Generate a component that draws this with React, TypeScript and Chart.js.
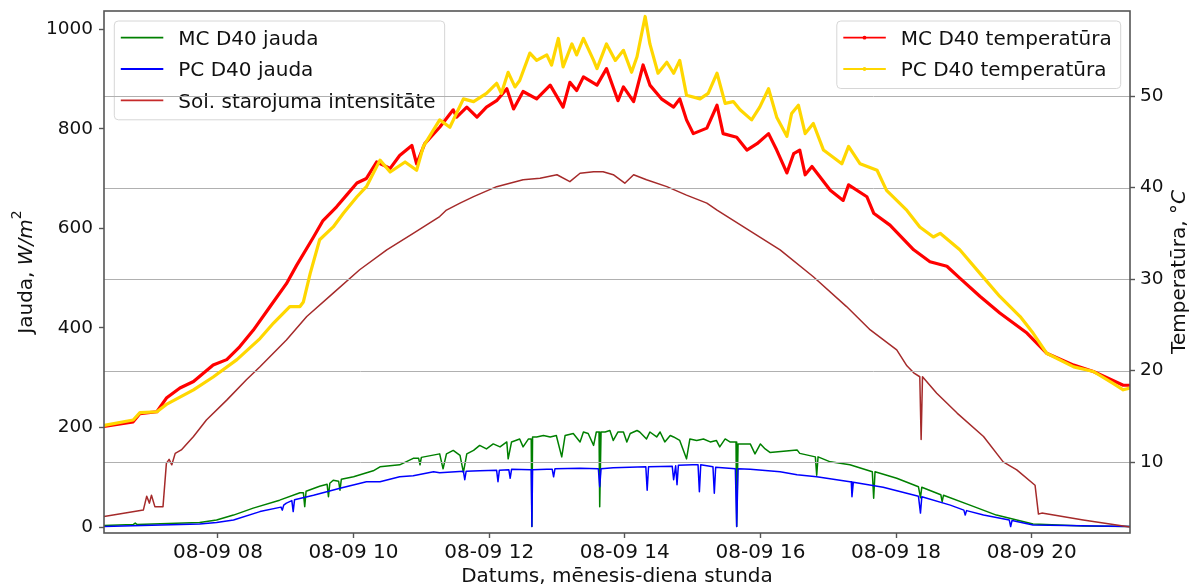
import React, { useEffect, useRef } from 'react';
import { Chart, registerables } from 'chart.js';

Chart.register(...registerables);

const FONT = "'DejaVu Sans', 'Noto Sans', sans-serif";

// ---- axis ticks ----
const xTickHours = [8, 10, 12, 14, 16, 18, 20];
const xTickDate = '08-09';
const powerTicks = [0, 200, 400, 600, 800, 1000];
const tempTicks = [10, 20, 30, 40, 50];
const xRange = [6.32, 21.45];
const powerRange = [-12, 1037];
const tempRange = [2.25, 59.3];

// ---- series (hours of 08-09, values) ----
const mcPowerHours = [
  6.32, 6.75, 6.78, 6.81, 7.73, 7.98, 8.23, 8.52, 8.91, 9.21,
  9.26, 9.28, 9.3, 9.5, 9.61, 9.63, 9.65, 9.7, 9.78, 9.8,
  9.82, 10.0, 10.29, 10.39, 10.68, 10.88, 10.96, 10.98, 11.0, 11.27,
  11.32, 11.37, 11.47, 11.57, 11.62, 11.67, 11.77, 11.86, 11.96, 12.06,
  12.16, 12.26, 12.28, 12.33, 12.45, 12.5, 12.58, 12.62, 12.63, 12.64,
  12.7, 12.8, 12.9, 12.99, 13.07, 13.12, 13.24, 13.34, 13.39, 13.46,
  13.54, 13.58, 13.62, 13.63, 13.65, 13.71, 13.78, 13.83, 13.9, 13.98,
  14.03, 14.08, 14.18, 14.22, 14.32, 14.37, 14.47, 14.52, 14.59, 14.67,
  14.72, 14.81, 14.91, 14.96, 15.06, 15.16, 15.26, 15.35, 15.4, 15.48,
  15.55, 15.64, 15.65, 15.67, 15.75, 15.85, 15.92, 16.0, 16.07, 16.14,
  16.54, 16.58, 16.81, 16.83, 16.85, 17.03, 17.32, 17.65, 17.67, 17.69,
  18.01, 18.33, 18.36, 18.38, 18.66, 18.68, 18.7, 19.09, 19.48, 20.02,
  20.76, 21.45,
];
const mcPowerValues = [
  3, 5, 8, 5, 9, 14, 24, 38, 54, 69,
  69, 41, 72, 82, 86, 61, 88, 94, 92, 74,
  96, 101, 113, 121, 125, 138, 138, 125, 140, 147,
  117, 147, 154, 144, 110, 147, 154, 164, 157, 167,
  161, 171, 137, 171, 177, 161, 177, 177, 1, 181,
  181, 184, 181, 184, 141, 184, 188, 171, 191, 188,
  164, 191, 191, 41, 191, 191, 194, 174, 191, 191,
  171, 188, 194, 191, 177, 191, 181, 191, 171, 184,
  181, 174, 137, 177, 174, 177, 171, 174, 161, 177,
  171, 171, 1, 167, 167, 167, 147, 167, 157, 150,
  155, 148, 141, 104, 141, 131, 125, 111, 58, 111,
  98, 81, 59, 80, 65, 51, 64, 44, 24, 6,
  2, 1,
];

const pcPowerHours = [
  6.32, 7.73, 7.98, 8.23, 8.62, 8.93, 8.95, 8.97, 9.01, 9.09,
  9.11, 9.13, 9.41, 9.8, 10.19, 10.39, 10.68, 10.88, 11.18, 11.27,
  11.62, 11.64, 11.66, 11.86, 12.11, 12.13, 12.15, 12.29, 12.31, 12.33,
  12.62, 12.63, 12.64, 12.85, 12.93, 12.95, 12.97, 13.34, 13.61, 13.63,
  13.65, 13.83, 14.31, 14.33, 14.35, 14.7, 14.72, 14.75, 14.77, 14.79,
  15.0, 15.08, 15.1, 15.12, 15.3, 15.32, 15.34, 15.63, 15.65, 15.67,
  15.85, 16.29, 16.54, 16.83, 17.32, 17.34, 17.35, 17.37, 17.81, 18.33,
  18.36, 18.38, 18.8, 19.0, 19.02, 19.04, 19.29, 19.67, 19.69, 19.71,
  20.02, 21.45,
];
const pcPowerValues = [
  1, 6, 9, 14, 31, 40, 34, 44, 48, 53,
  31, 55, 64, 78, 91, 91, 101, 103, 111, 109,
  112, 95, 112, 113, 114, 91, 114, 115, 98, 116,
  115, 1, 115, 116, 116, 101, 117, 118, 117, 81,
  117, 119, 121, 74, 121, 122, 95, 123, 85, 124,
  125, 125, 71, 125, 121, 68, 120, 117, 1, 117,
  116, 111, 105, 101, 91, 91, 61, 90, 80, 62,
  28, 61, 44, 34, 24, 33, 24, 14, 1, 13,
  4, 1,
];

const solarHours = [6.32, 6.9, 6.95, 6.99, 7.02, 7.07, 7.19, 7.24, 7.28, 7.32, 7.37, 7.46, 7.64, 7.83, 8.13, 8.42, 8.62, 9.01, 9.31, 9.7, 10.09, 10.49, 10.88, 11.27, 11.37, 11.57, 11.77, 12.11, 12.5, 12.75, 13.0, 13.19, 13.34, 13.54, 13.68, 13.83, 14.0, 14.13, 14.32, 14.62, 14.91, 15.21, 15.36, 16.29, 16.78, 17.27, 17.62, 18.01, 18.16, 18.26, 18.35, 18.37, 18.39, 18.6, 18.9, 19.29, 19.58, 19.78, 20.05, 20.1, 20.15, 20.76, 21.45];
const solarValues = [21, 34, 62, 48, 64, 41, 41, 128, 136, 125, 148, 155, 182, 215, 255, 296, 322, 376, 423, 470, 517, 557, 590, 624, 637, 651, 664, 684, 698, 701, 708, 694, 711, 714, 714, 708, 691, 708, 698, 684, 667, 651, 637, 557, 503, 443, 396, 356, 324, 310, 302, 176, 302, 269, 229, 182, 131, 115, 84, 26, 28, 14, 0];

const mcTempHours = [6.32, 6.75, 6.85, 7.1, 7.24, 7.44, 7.64, 7.93, 8.13, 8.32, 8.52, 8.77, 9.01, 9.16, 9.41, 9.55, 9.75, 9.9, 10.05, 10.19, 10.34, 10.54, 10.68, 10.86, 10.93, 11.05, 11.27, 11.47, 11.52, 11.67, 11.82, 11.96, 12.11, 12.26, 12.36, 12.5, 12.7, 12.9, 13.09, 13.19, 13.29, 13.39, 13.59, 13.73, 13.9, 13.98, 14.13, 14.27, 14.37, 14.54, 14.72, 14.81, 14.91, 15.01, 15.21, 15.36, 15.45, 15.65, 15.8, 15.95, 16.12, 16.24, 16.39, 16.49, 16.58, 16.66, 16.76, 17.03, 17.22, 17.3, 17.57, 17.67, 17.91, 18.26, 18.5, 18.75, 18.94, 19.24, 19.53, 19.93, 20.22, 20.62, 20.91, 21.35, 21.45];
const mcTempValues = [13.9, 14.4, 15.3, 15.5, 17.0, 18.1, 18.8, 20.6, 21.2, 22.6, 24.4, 27.0, 29.5, 31.5, 34.6, 36.4, 37.9, 39.2, 40.5, 41.0, 42.8, 42.1, 43.5, 44.6, 42.6, 44.8, 46.6, 48.5, 47.7, 48.8, 47.7, 48.8, 49.5, 50.8, 48.6, 50.5, 49.7, 51.2, 48.8, 51.5, 50.6, 52.1, 51.2, 53.0, 49.5, 51.0, 49.4, 53.4, 51.2, 49.7, 48.8, 49.7, 47.4, 45.9, 46.5, 49.0, 45.9, 45.5, 44.1, 44.8, 45.9, 44.1, 41.6, 43.7, 44.1, 41.4, 42.3, 39.7, 38.6, 40.3, 39.0, 37.2, 35.9, 33.2, 31.9, 31.4, 30.1, 28.1, 26.3, 24.1, 21.9, 20.6, 19.9, 18.4, 18.4];

const pcTempHours = [6.32, 6.75, 6.85, 7.1, 7.24, 7.64, 7.93, 8.28, 8.62, 8.82, 9.06, 9.21, 9.26, 9.36, 9.5, 9.7, 9.85, 10.05, 10.19, 10.39, 10.54, 10.76, 10.93, 11.03, 11.27, 11.42, 11.62, 11.77, 11.96, 12.11, 12.18, 12.28, 12.38, 12.45, 12.6, 12.7, 12.85, 12.92, 13.02, 13.09, 13.22, 13.29, 13.39, 13.54, 13.59, 13.73, 13.86, 13.98, 14.1, 14.18, 14.3, 14.37, 14.49, 14.62, 14.72, 14.81, 14.91, 15.11, 15.23, 15.36, 15.48, 15.6, 15.7, 15.87, 15.99, 16.12, 16.24, 16.39, 16.46, 16.56, 16.66, 16.78, 16.93, 17.2, 17.3, 17.47, 17.72, 17.86, 18.16, 18.35, 18.55, 18.65, 18.94, 19.24, 19.53, 19.83, 20.02, 20.22, 20.62, 20.91, 21.2, 21.35, 21.45];
const pcTempValues = [14.0, 14.6, 15.4, 15.5, 16.3, 17.9, 19.3, 21.2, 23.5, 25.2, 27.0, 27.0, 27.5, 30.6, 34.3, 35.7, 37.2, 39.0, 40.1, 43.0, 41.7, 42.8, 41.9, 44.5, 47.4, 46.6, 49.7, 49.4, 50.3, 51.4, 50.3, 52.6, 51.0, 51.7, 54.7, 53.9, 54.5, 53.4, 56.3, 53.2, 55.7, 54.5, 56.3, 53.9, 53.0, 55.7, 53.9, 55.0, 52.6, 54.3, 58.7, 55.7, 52.5, 53.7, 52.5, 53.9, 50.1, 49.7, 50.3, 52.5, 49.2, 49.4, 48.5, 47.4, 48.8, 50.8, 47.7, 45.6, 48.1, 49.0, 45.9, 47.0, 44.1, 42.6, 44.5, 42.6, 41.9, 39.7, 37.5, 35.7, 34.6, 35.0, 33.2, 30.6, 28.1, 25.9, 24.1, 21.9, 20.4, 19.9, 18.6, 17.9, 18.1];

// ---- labels ----
const seriesLabels = ['MC D40 jauda', 'PC D40 jauda', 'Sol. starojuma intensitāte', 'MC D40 temperatūra', 'PC D40 temperatūra'];
const seriesColors = ['#008000', '#0000ff', '#a52a2a', '#ff0000', '#ffd700'];
const legendLeftColors = ['#008000', '#0000ff', '#c62a2a'];
const xTitle = 'Datums, mēnesis-diena stunda';

const zip = (hs: number[], vs: number[]) => hs.map((h, i) => ({ x: h, y: vs[i] }));

type Entry = { label: string; color: string; marker: boolean };

function drawLegend(ctx: CanvasRenderingContext2D, left: number, top: number, entries: Entry[], anchorRight: boolean) {
  ctx.save();
  ctx.font = `20px ${FONT}`;
  const textW = Math.max(...entries.map((e) => ctx.measureText(e.label).width));
  const w = 64 + textW + 9;
  const rowGap = 31.3;
  const h = 16.7 + (entries.length - 1) * rowGap + 19.5;
  const x0 = anchorRight ? left - w : left;
  ctx.beginPath();
  (ctx as any).roundRect(x0, top, w, h, 4);
  ctx.fillStyle = 'rgba(255,255,255,0.8)';
  ctx.fill();
  ctx.strokeStyle = '#d6d6d6';
  ctx.lineWidth = 1;
  ctx.stroke();
  entries.forEach((e, i) => {
    const y = top + 16.7 + i * rowGap;
    ctx.beginPath();
    ctx.moveTo(x0 + 6.5, y);
    ctx.lineTo(x0 + 49, y);
    ctx.strokeStyle = e.color;
    ctx.lineWidth = 1.8;
    ctx.stroke();
    if (e.marker) {
      ctx.beginPath();
      ctx.arc(x0 + 27.7, y, 1.9, 0, Math.PI * 2);
      ctx.fillStyle = e.color;
      ctx.fill();
    }
    ctx.fillStyle = '#111';
    ctx.textBaseline = 'alphabetic';
    ctx.textAlign = 'left';
    ctx.fillText(e.label, x0 + 64, y + 7.3);
  });
  ctx.restore();
}

type Part = { text: string; font: string; dy?: number };
function drawRich(ctx: CanvasRenderingContext2D, parts: Part[], cx: number, cy: number, rot: number) {
  ctx.save();
  ctx.translate(cx, cy);
  ctx.rotate(rot);
  ctx.textBaseline = 'alphabetic';
  ctx.textAlign = 'left';
  ctx.fillStyle = '#111';
  let total = 0;
  const widths = parts.map((p) => {
    ctx.font = p.font;
    const w = ctx.measureText(p.text).width;
    total += w;
    return w;
  });
  let x = -total / 2;
  parts.forEach((p, i) => {
    ctx.font = p.font;
    ctx.fillText(p.text, x, p.dy || 0);
    x += widths[i];
  });
  ctx.restore();
}

const overlay = {
  id: 'overlay',
  beforeDatasetDraw(chart: any, args: any) {
    if (args.index !== 3) return;
    const ctx = chart.ctx as CanvasRenderingContext2D;
    const ca = chart.chartArea;
    drawLegend(
      ctx,
      ca.left + 10.3,
      ca.top + 10,
      [0, 1, 2].map((i) => ({ label: seriesLabels[i], color: legendLeftColors[i], marker: false })),
      false
    );
    const y1 = chart.scales.y1;
    ctx.save();
    ctx.strokeStyle = '#b0b0b0';
    ctx.lineWidth = 1;
    tempTicks.forEach((v) => {
      const y = Math.round(y1.getPixelForValue(v)) + 0.5;
      ctx.beginPath();
      ctx.moveTo(ca.left, y);
      ctx.lineTo(ca.right, y);
      ctx.stroke();
    });
    ctx.restore();
  },
  afterDatasetsDraw(chart: any) {
    const ctx = chart.ctx as CanvasRenderingContext2D;
    const ca = chart.chartArea;
    ctx.save();
    ctx.strokeStyle = '#555';
    ctx.lineWidth = 1.6;
    ctx.strokeRect(ca.left, ca.top, ca.right - ca.left, ca.bottom - ca.top);
    ctx.restore();
    drawLegend(
      ctx,
      ca.right - 9.3,
      ca.top + 10,
      [3, 4].map((i) => ({ label: seriesLabels[i], color: seriesColors[i], marker: true })),
      true
    );
  },
  afterDraw(chart: any) {
    const ctx = chart.ctx as CanvasRenderingContext2D;
    const ca = chart.chartArea;
    const midY = (ca.top + ca.bottom) / 2;
    const n = `20px ${FONT}`;
    const it = `italic 20px ${FONT}`;
    drawRich(ctx, [
      { text: 'Jauda, ', font: n },
      { text: 'W/m', font: it },
      { text: '2', font: `14px ${FONT}`, dy: -11 },
    ], 32, midY, -Math.PI / 2);
    drawRich(ctx, [
      { text: 'Temperatūra, ', font: n },
      { text: '°', font: n },
      { text: 'C', font: it },
    ], chart.width - 4, midY, -Math.PI / 2);
    drawRich(ctx, [{ text: xTitle, font: n }], (ca.left + ca.right) / 2, chart.height - 3.5, 0);
  },
};

export default function App() {
  const ref = useRef<HTMLCanvasElement | null>(null);
  useEffect(() => {
    if (!ref.current) return;
    const tickGrid = { display: true, drawOnChartArea: false, drawTicks: true, tickLength: 5, tickColor: '#555', tickWidth: 1.4 };
    const mk = (i: number, data: any[], axis: string, width: number, order: number) => ({
      label: seriesLabels[i],
      data,
      yAxisID: axis,
      borderColor: seriesColors[i],
      backgroundColor: seriesColors[i],
      borderWidth: width,
      pointRadius: 0,
      pointHoverRadius: 0,
      tension: 0,
      fill: false,
      order,
      borderJoinStyle: 'round' as const,
      borderCapStyle: 'round' as const,
    });
    const chart = new Chart(ref.current, {
      type: 'line',
      data: {
        datasets: [
          mk(0, zip(mcPowerHours, mcPowerValues), 'y', 1.5, 5),
          mk(1, zip(pcPowerHours, pcPowerValues), 'y', 1.5, 4),
          mk(2, zip(solarHours, solarValues), 'y', 1.5, 3),
          mk(3, zip(mcTempHours, mcTempValues), 'y1', 3.2, 2),
          mk(4, zip(pcTempHours, pcTempValues), 'y1', 3.2, 1),
        ],
      },
      options: {
        responsive: false,
        animation: false,
        events: [],
        layout: { padding: { top: 11, left: 0, right: 0, bottom: 0 } },
        plugins: { legend: { display: false }, tooltip: { enabled: false }, title: { display: false } },
        scales: {
          x: {
            type: 'linear',
            min: xRange[0],
            max: xRange[1],
            grid: tickGrid,
            border: { display: false },
            afterBuildTicks: (s: any) => { s.ticks = xTickHours.map((v) => ({ value: v })); },
            afterFit: (s: any) => { s.height = 52; s.paddingLeft = 0; s.paddingRight = 0; },
            ticks: {
              autoSkip: false,
              maxRotation: 0,
              padding: 3,
              color: '#111',
              font: { family: FONT, size: 20 },
              callback: (v: any) => `${xTickDate} ${String(v).padStart(2, '0')}`,
            },
          },
          y: {
            type: 'linear',
            position: 'left',
            min: powerRange[0],
            max: powerRange[1],
            grid: tickGrid,
            border: { display: false },
            afterBuildTicks: (s: any) => { s.ticks = powerTicks.map((v) => ({ value: v })); },
            afterFit: (s: any) => { s.width = 104; s.paddingTop = 0; s.paddingBottom = 0; },
            ticks: { padding: 6, color: '#111', font: { family: FONT, size: 18.5 }, callback: (v: any) => String(v) },
          },
          y1: {
            type: 'linear',
            position: 'right',
            min: tempRange[0],
            max: tempRange[1],
            grid: tickGrid,
            border: { display: false },
            afterBuildTicks: (s: any) => { s.ticks = tempTicks.map((v) => ({ value: v })); },
            afterFit: (s: any) => { s.width = 59; s.paddingTop = 0; s.paddingBottom = 0; },
            ticks: { padding: 5, color: '#111', font: { family: FONT, size: 18.5 }, callback: (v: any) => String(v) },
          },
        },
      },
      plugins: [overlay],
    } as any);
    return () => chart.destroy();
  }, []);
  return (
    <div style={{ position: 'fixed', left: 0, top: 0, width: 1189, height: 585, background: '#fff' }}>
      <canvas ref={ref} width={1189} height={585} style={{ display: 'block' }} />
    </div>
  );
}
